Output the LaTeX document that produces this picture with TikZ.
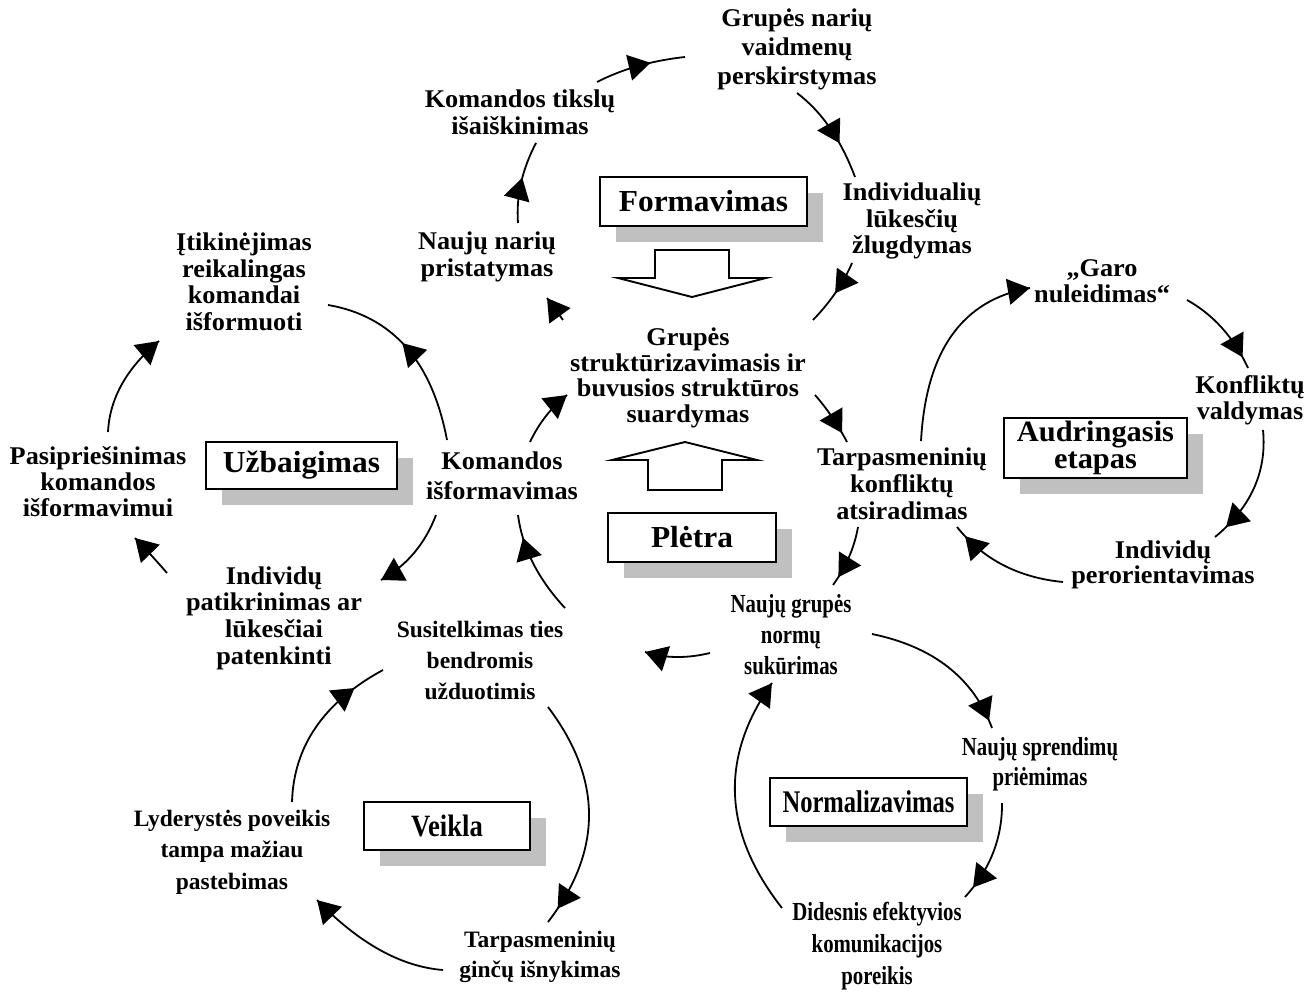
\documentclass[tikz,border=0pt]{standalone}
\usepackage{fontspec}
\setmainfont{Liberation Serif}
\newfontfamily\fwide[FakeStretch=1.03]{Liberation Serif}
\newfontfamily\fnorm{Liberation Serif}
\newfontfamily\fnarrow[FakeStretch=0.86]{Liberation Serif}
\newfontfamily\fcond[FakeStretch=0.8]{Liberation Serif}
\newfontfamily\fnarrower[FakeStretch=0.78]{Liberation Serif}
\usetikzlibrary{arrows.meta,decorations.markings,calc,shadows}
\definecolor{shade}{HTML}{C0C0C0}
\tikzset{
  labw/.style={align=center, inner sep=0pt, font=\fwide\bfseries\fontsize{25.5}{#1}\selectfont},
  labn/.style={align=center, inner sep=0pt, font=\fnorm\bfseries\fontsize{23.5}{#1}\selectfont},
  labc/.style={align=center, inner sep=0pt, font=\fcond\bfseries\fontsize{26}{#1}\selectfont},
  stage/.style={draw, line width=1.9pt, fill=white, inner sep=0pt, align=center,
    general shadow={fill=shade, shadow xshift=16pt, shadow yshift=-16pt}},
  stw/.style={stage, font=\fwide\bfseries\fontsize{30.5}{27}\selectfont},
  stn/.style={stage, font=\fnarrow\bfseries\fontsize{31}{28}\selectfont},
  stc/.style={stage, font=\fnarrower\bfseries\fontsize{31.5}{28}\selectfont},
  conn/.style={line width=1.8pt},
  blockarrow/.style={draw, line width=1.9pt, fill=white, line join=miter},
  headtip/.tip={Triangle[length=22pt,width=26pt]}
}
\newcommand\cyclearc[2]{%
  \coordinate (#1q) at ($2*(#1m)-0.5*(#1s)-0.5*(#1e)$);
  \draw[conn, decoration={markings, mark=at position #2 with {\arrow{headtip}}}, postaction={decorate}]
    (#1s) .. controls ($(#1s)!2/3!(#1q)$) and ($(#1e)!2/3!(#1q)$) .. (#1e);
}
\begin{document}
\begin{tikzpicture}[x=1pt, y=-1pt]
\useasboundingbox (0,0) rectangle (1308,992);

% stage boxes
\node[stw, minimum width=207pt, minimum height=49pt] (form) at (703.5,201.5) {Formavimas};
\node[stw, minimum width=168pt, minimum height=49pt] (plet) at (692,537.5) {Plėtra};
\node[stw, minimum width=191pt, minimum height=47pt] (uzb) at (301.5,465.5) {Užbaigimas};
\node[stn, minimum width=166pt, minimum height=48pt] (veik) at (447,826) {Veikla};
\node[stw, minimum width=183pt, minimum height=60pt, font=\fwide\bfseries\fontsize{29.5}{27}\selectfont] (aud) at (1095.5,448) {Audringasis\\etapas};
\node[stc, minimum width=197pt, minimum height=48pt] (norm) at (868.5,802) {Normalizavimas};

% block arrows
\draw[blockarrow] (655,250) -- (729,250) -- (729,278) -- (766,278) -- (692,297) -- (618,278) -- (655,278) -- cycle;
\draw[blockarrow] (685,442) -- (757,460) -- (722,460) -- (722,490) -- (648,490) -- (648,460) -- (612,460) -- cycle;

% labels
\node[labw=29] (gnv) at (797,49) {Grupės narių\\vaidmenų\\perskirstymas};
\node[labw=27] (kt) at (520,112) {Komandos tikslų\\išaiškinimas};
\node[labw=26.5] (ind) at (912,221) {Individualių\\lūkesčių\\žlugdymas};
\node[labw=26.5] (nn) at (487,257) {Naujų narių\\pristatymas};
\node[labw=25.7] (gs) at (688,378) {Grupės\\struktūrizavimasis ir\\buvusios struktūros\\suardymas};
\node[labw=27] (tk) at (902,484) {Tarpasmeninių\\konfliktų\\atsiradimas};
\node[labw=26] (garo) at (1102,281) {„Garo\\nuleidimas“};
\node[labw=26] (kv) at (1250,400) {Konfliktų\\valdymas};
\node[labw=25] (ip) at (1163,565) {Individų\\perorientavimas};
\node[labw=30] (kom) at (502,476) {Komandos\\išformavimas};
\node[labw=26.5] (itik) at (244,282) {Įtikinėjimas\\reikalingas\\komandai\\išformuoti};
\node[labw=26] (pas) at (98,482) {Pasipriešinimas\\komandos\\išformavimui};
\node[labw=26.7] (indp) at (274,618) {Individų\\patikrinimas ar\\lūkesčiai\\patenkinti};
\node[labn=31] (sus) at (480,660) {Susitelkimas ties\\bendromis\\užduotimis};
\node[labn=31.5] (lyd) at (232,852) {Lyderystės poveikis\\tampa mažiau\\pastebimas};
\node[labn=30] (tg) at (540,957) {Tarpasmeninių\\ginčų išnykimas};
\node[labc=31] (ngn) at (791,635) {Naujų grupės\\normų\\sukūrimas};
\node[labc=30] (ns) at (1040,764) {Naujų sprendimų\\priėmimas};
\node[labc=32] (did) at (877,946) {Didesnis efektyvios\\komunikacijos\\poreikis};

% Formavimas cycle
\coordinate (a1s) at (597,82);  \coordinate (a1m) at (638,66);  \coordinate (a1e) at (685,57);
\coordinate (a2s) at (797,93);  \coordinate (a2m) at (830,128); \coordinate (a2e) at (855,177);
\coordinate (a3s) at (852,263); \coordinate (a3m) at (836,292); \coordinate (a3e) at (813,320);
\coordinate (a4s) at (518,223); \coordinate (a4m) at (521,183); \coordinate (a4e) at (536,143);
\coordinate (a5s) at (563,320); \coordinate (a5m) at (555,309); \coordinate (a5e) at (547,298);
\cyclearc{a1}{0.62}
\cyclearc{a2}{0.64}
\cyclearc{a3}{0.5}
\cyclearc{a4}{0.55}
\cyclearc{a5}{0.999}

% Uzbaigimas cycle
\coordinate (b1s) at (447,440); \coordinate (b1m) at (406,347); \coordinate (b1e) at (328,305);
\coordinate (b2s) at (436,515); \coordinate (b2m) at (414,553); \coordinate (b2e) at (381,580);
\coordinate (b3s) at (167,573); \coordinate (b3m) at (151,555); \coordinate (b3e) at (135,538);
\coordinate (b4s) at (108,432); \coordinate (b4m) at (122,384); \coordinate (b4e) at (159,341);
\cyclearc{b1}{0.56}
\cyclearc{b2}{0.999}
\cyclearc{b3}{0.999}
\cyclearc{b4}{0.999}

% Pletra cycle
\coordinate (c1s) at (530,442); \coordinate (c1m) at (546,416); \coordinate (c1e) at (567,395);
\coordinate (c2s) at (815,395); \coordinate (c2m) at (832,417); \coordinate (c2e) at (847,442);
\coordinate (c3s) at (858,527); \coordinate (c3m) at (849,557); \coordinate (c3e) at (833,585);
\coordinate (c4s) at (710,653); \coordinate (c4m) at (676,657); \coordinate (c4e) at (645,652);
\coordinate (c5s) at (565,608); \coordinate (c5m) at (533,563); \coordinate (c5e) at (518,515);
\cyclearc{c1}{0.999}
\cyclearc{c2}{0.82}
\cyclearc{c3}{0.85}
\cyclearc{c4}{0.999}
\cyclearc{c5}{0.78}

% Audringasis cycle
\coordinate (d1s) at (921,441);  \coordinate (d1m) at (952,335);  \coordinate (d1e) at (1030,288);
\coordinate (d2s) at (1187,300); \coordinate (d2m) at (1222,328); \coordinate (d2e) at (1248,368);
\coordinate (d3s) at (1263,430); \coordinate (d3m) at (1254,488); \coordinate (d3e) at (1215,537);
\coordinate (d4s) at (1063,582); \coordinate (d4m) at (1003,565); \coordinate (d4e) at (957,527);
\cyclearc{d1}{0.999}
\cyclearc{d2}{0.87}
\cyclearc{d3}{0.88}
\cyclearc{d4}{0.9}

% Normalizavimas cycle
\coordinate (e1s) at (872,634);  \coordinate (e1m) at (948,667); \coordinate (e1e) at (992,728);
\coordinate (e2s) at (1002,803); \coordinate (e2m) at (993,853); \coordinate (e2e) at (965,897);
\coordinate (e3s) at (782,908);  \coordinate (e3m) at (735,795); \coordinate (e3e) at (772,683);
\cyclearc{e1}{0.95}
\cyclearc{e2}{0.88}
\cyclearc{e3}{0.999}

% Veikla cycle
\coordinate (f1s) at (548,707); \coordinate (f1m) at (589,815); \coordinate (f1e) at (548,922);
\coordinate (f2s) at (443,970); \coordinate (f2m) at (380,950); \coordinate (f2e) at (317,900);
\coordinate (f3s) at (292,802); \coordinate (f3m) at (316,727); \coordinate (f3e) at (383,670);
\cyclearc{f1}{0.93}
\cyclearc{f2}{0.999}
\cyclearc{f3}{0.8}
\end{tikzpicture}
\end{document}
